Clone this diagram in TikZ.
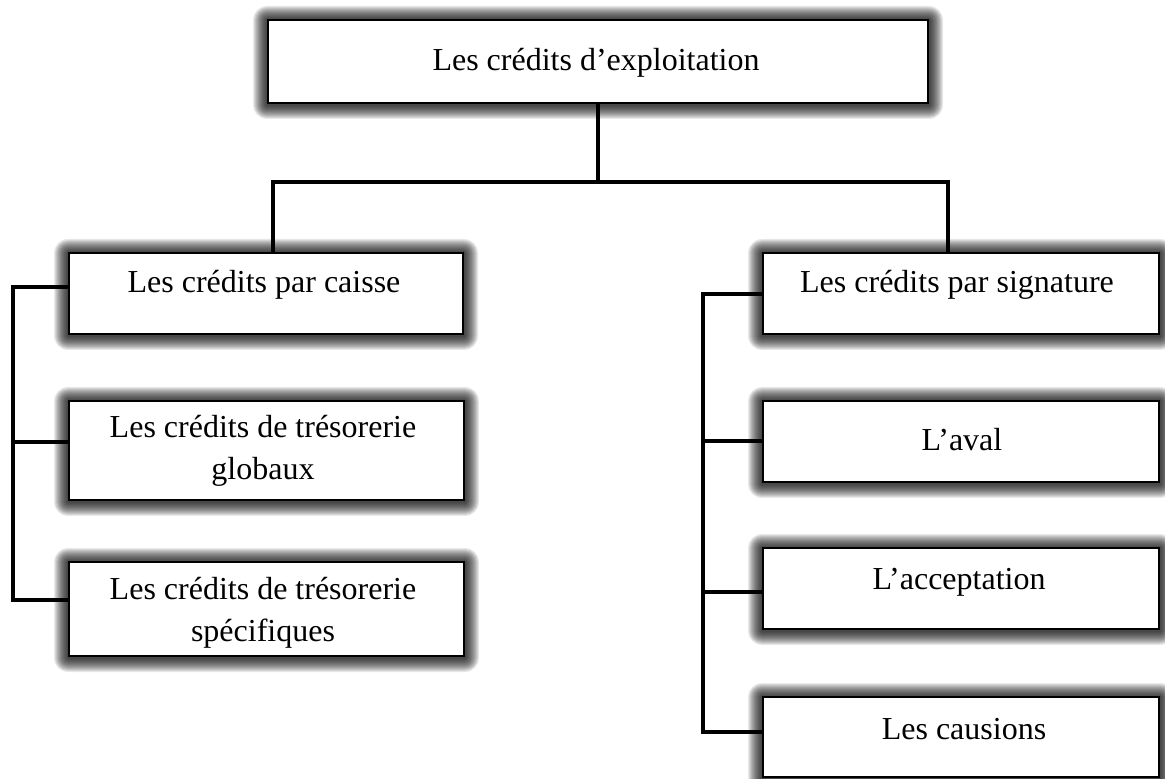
\documentclass[tikz,border=0pt]{standalone}
\usepackage{fontspec}
\setmainfont{Liberation Serif}
\usetikzlibrary{backgrounds}

% soft dark halo around a box node
\newcommand\haloaround[1]{%
  \foreach \k in {1,...,14}{%
    \pgfmathsetmacro\hr{\k*0.5}%
    \pgfmathsetmacro\ht{(\k-1)*0.5}%
    \pgfmathsetmacro\hb{(\k+1)*0.5}%
    \fill[black, opacity=0.085, rounded corners=\hr pt]
      ([shift={(-\hr pt,\ht pt)}]#1.north west) rectangle
      ([shift={(\hr pt,-\hb pt)}]#1.south east);
  }}

\begin{document}
\begin{tikzpicture}[x=0.5pt, y=-0.5pt,
  box/.style={draw=black, line width=1pt, fill=white, rectangle, inner sep=0pt},
  lbl/.style={font=\fontsize{16pt}{21pt}\selectfont, inner sep=0pt, align=center},
  link/.style={line width=1.75pt, black}]
\useasboundingbox (0,0) rectangle (1165,779);

% boxes
\node[box, minimum width=330pt, minimum height=41.5pt] (top) at (598,61.5) {};
\node[box, minimum width=197pt, minimum height=40.5pt] (caisse) at (266,293.5) {};
\node[box, minimum width=197.5pt, minimum height=49.5pt] (globaux) at (266.5,450.5) {};
\node[box, minimum width=197.5pt, minimum height=47pt] (specif) at (266.5,609) {};
\node[box, minimum width=198pt, minimum height=40.5pt] (signature) at (961,293.5) {};
\node[box, minimum width=198pt, minimum height=40.5pt] (aval) at (961,441.5) {};
\node[box, minimum width=198pt, minimum height=40.5pt] (accept) at (961,588.5) {};
\node[box, minimum width=198pt, minimum height=40pt] (causions) at (961,737) {};

\begin{scope}[on background layer]
  \haloaround{top}
  \haloaround{caisse}
  \haloaround{globaux}
  \haloaround{specif}
  \haloaround{signature}
  \haloaround{aval}
  \haloaround{accept}
  \haloaround{causions}
\end{scope}

% labels
\node[lbl, anchor=base] (top-t) at (596,71) {Les crédits d’exploitation};
\node[lbl, anchor=base] (caisse-t) at (264,293) {Les crédits par caisse};
\node[lbl] (globaux-t) at (263,451) {Les crédits de trésorerie\\globaux};
\node[lbl] (specif-t) at (263,613) {Les crédits de trésorerie\\spécifiques};
\node[lbl, anchor=base] (signature-t) at (957,293) {Les crédits par signature};
\node[lbl, anchor=base] (aval-t) at (962,451) {L’aval};
\node[lbl, anchor=base] (accept-t) at (959,589) {L’acceptation};
\node[lbl, anchor=base] (causions-t) at (964,739) {Les causions};

% main split
\coordinate (busL) at (273,182);
\coordinate (busR) at (948,182);
\draw[link] (top.south) -- (top.south |- busL);
\draw[link] (caisse.north -| busL) -- (busL) -- (busR) -- (signature.north -| busR);

% left branch
\coordinate (lT) at (13,287);
\coordinate (lM) at (13,442);
\coordinate (lB) at (13,600);
\draw[link] (caisse.west |- lT) -- (lT) -- (lB) -- (specif.west |- lB);
\draw[link] (globaux.west |- lM) -- (lM);

% right branch
\coordinate (rT) at (703,294);
\coordinate (rA) at (703,441);
\coordinate (rC) at (703,592);
\coordinate (rB) at (703,732);
\draw[link] (signature.west |- rT) -- (rT) -- (rB) -- (causions.west |- rB);
\draw[link] (aval.west |- rA) -- (rA);
\draw[link] (accept.west |- rC) -- (rC);
\end{tikzpicture}
\end{document}
